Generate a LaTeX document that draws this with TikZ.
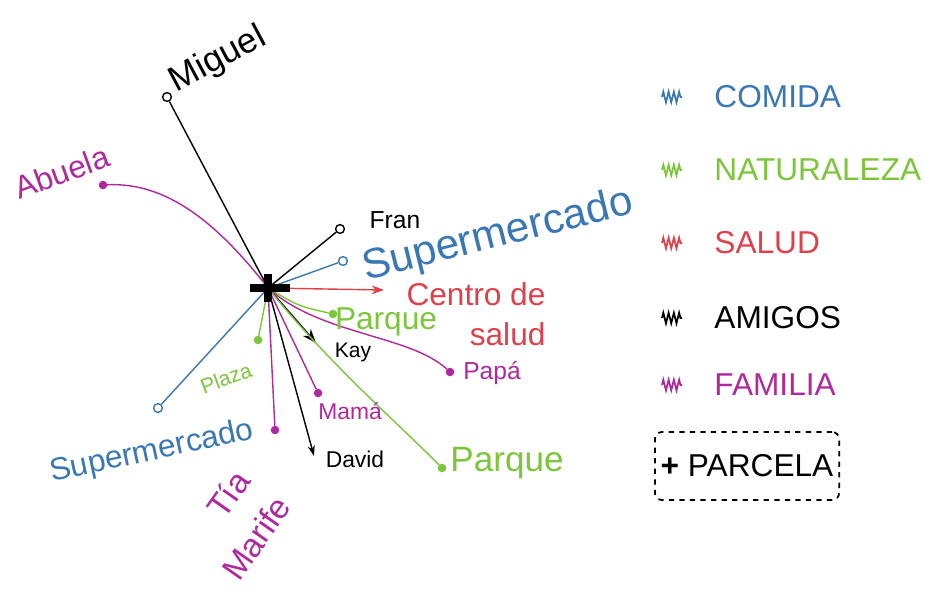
\documentclass[tikz,border=0pt]{standalone}
\usepackage{fontspec}
\setmainfont{Liberation Sans}
\usepackage{tikz}
\usetikzlibrary{arrows.meta,decorations.pathmorphing,positioning}
\definecolor{comidablue}{HTML}{3A78B5}
\definecolor{naturgreen}{HTML}{7CC63A}
\definecolor{saludred}{HTML}{E0404A}
\definecolor{familiamag}{HTML}{B0289E}
\newcommand{\fs}[1]{\fontsize{#1}{#1}\selectfont}

\begin{document}
\begin{tikzpicture}[
    x=0.02cm, y=-0.02cm,
    line width=0.8pt,
    endpt/.style={circle,draw=#1,fill=white,inner sep=0pt,minimum size=5pt},
    endpt/.default=black,
    enddot/.style={circle,draw,fill,inner sep=0pt,minimum size=4pt},
    tag/.style={inner sep=1pt},
    swatch/.style={decorate,line width=1pt,
      decoration={zigzag,amplitude=3pt,segment length=3pt}},
  ]
    \useasboundingbox (0,0) rectangle (925,596);
    \coordinate (hub) at (268,288);

    % spoke ends
    \node[endpt] (miguelpt) at (167,97) {};
    \node[enddot,familiamag] (abuelapt) at (103,185) {};
    \node[endpt] (franpt) at (340,229) {};
    \node[endpt=comidablue] (supapt) at (343,261) {};
    \coordinate (centropt) at (384,290);
    \node[enddot,naturgreen] (parqueapt) at (333,314) {};
    \coordinate (kaypt) at (316,343);
    \node[enddot,familiamag] (papapt) at (450,372) {};
    \node[enddot,familiamag] (mamapt) at (318,393) {};
    \coordinate (davidpt) at (314,456);
    \node[enddot,naturgreen] (parquebpt) at (442,468) {};
    \node[enddot,familiamag] (tiapt) at (275,430) {};
    \node[enddot,naturgreen] (plazapt) at (258,340) {};
    \node[endpt=comidablue] (supbpt) at (158,408) {};

    % spokes
    \draw (hub) -- (miguelpt);
    \draw[familiamag] (hub) .. controls (215,220) and (165,182) .. (abuelapt);
    \draw (hub) -- (franpt);
    \draw[comidablue] (hub) -- (supapt);
    \draw[saludred,-{Stealth[length=7pt,width=5pt]}] (hub) -- (centropt);
    \draw[naturgreen] (hub) .. controls (298,306) .. (parqueapt);
    \draw[line width=1pt,-{Stealth[length=8pt,width=6pt]}] (hub) -- (kaypt);
    \draw[familiamag] (hub) .. controls (320,335) and (410,335) .. (papapt);
    \draw[familiamag] (hub) -- (mamapt);
    \draw[-{Stealth[length=6pt,width=4pt]}] (hub) -- (davidpt);
    \draw[naturgreen] (hub) .. controls (330,365) and (400,425) .. (parquebpt);
    \draw[familiamag] (hub) -- (tiapt);
    \draw[naturgreen] (hub) -- (plazapt);
    \draw[comidablue] (hub) -- (supbpt);

    % parcel mark
    \draw[line width=4pt] (hub) ++(-18,0) -- ++(40,0);
    \draw[line width=4pt] (hub) ++(0,-14) -- ++(0,28);

    % labels
    \node[tag,font=\fs{20},rotate=28] (miguel) at (218,60) {Miguel};
    \node[tag,text=familiamag,font=\fs{18},rotate=20] (abuela) at (62,172) {Abuela};
    \node[tag,font=\fs{14}] (fran) at (395,220) {Fran};
    \node[tag,text=comidablue,font=\fs{24},rotate=14] (supa) at (498,236) {Supermercado};
    \node[tag,text=saludred,font=\fontsize{18}{23}\selectfont,align=right]
      (centro) at (476,314) {Centro de\\salud};
    \node[tag,text=naturgreen,font=\fs{18}] (parquea) at (386,322) {Parque};
    \node[tag,font=\fs{12}] (kay) at (353,352) {Kay};
    \node[tag,text=familiamag,font=\fs{14}] (papa) at (492,373) {Papá};
    \node[tag,text=familiamag,font=\fs{13}] (mama) at (350,411) {Mamá};
    \node[tag,font=\fs{13}] (david) at (355,459) {David};
    \node[tag,text=naturgreen,font=\fs{20}] (parqueb) at (507,463) {Parque};
    \node[tag,text=familiamag,font=\fs{19},rotate=55] (tia) at (228,494) {Tía};
    \node[tag,text=familiamag,font=\fs{19},rotate=55] (marife) at (256,538) {Marife};
    \node[tag,text=naturgreen,font=\fs{12},rotate=20] (plaza) at (226,378) {Plaza};
    \node[tag,text=comidablue,font=\fs{18},rotate=12] (supb) at (152,452) {Supermercado};

    % legend
    \foreach \y/\col/\txt in {97/comidablue/COMIDA,170/naturgreen/NATURALEZA,
        243/saludred/SALUD,318/black/AMIGOS,385/familiamag/FAMILIA} {
      \draw[swatch,\col] (662,\y) -- (682,\y);
      \node[tag,text=\col,font=\fs{18},anchor=west] (leg-\txt) at (712,\y) {\txt};
    }
    \node[draw,dashed,line width=1pt,rounded corners=4pt,minimum width=3.5cm,
      minimum height=1.36cm,font=\fs{18}] (parcela) at (747,466)
      {{\bfseries +} PARCELA};
\end{tikzpicture}
\end{document}
